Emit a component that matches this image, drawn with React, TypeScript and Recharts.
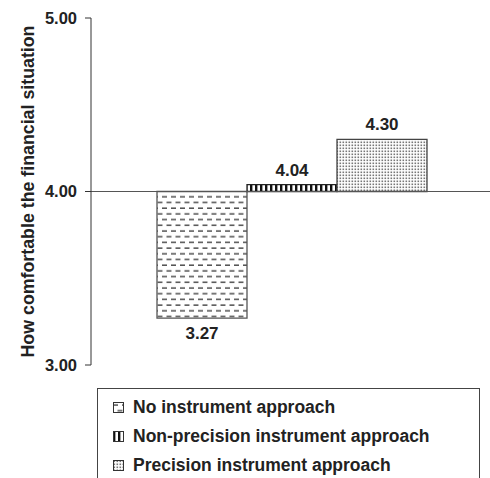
import React from "react";
import { BarChart, Bar, XAxis, YAxis, ReferenceLine, LabelList, Legend } from "recharts";

const categories = [
  "No instrument approach",
  "Non-precision instrument approach",
  "Precision instrument approach",
];
const seriesKeys = ["none", "nonPrecision", "precision"];
const values = [3.27, 4.04, 4.3];
const midpoint = 4;
const yTicks = [3, 4, 5];
const patternIds = ["pat-dash", "pat-stripe", "pat-dot"];
const strokes = ["#555", "#222", "#444"];

const FONT = "'Liberation Sans', Arial, sans-serif";

// one category, three bars running from the midpoint (4.00) to each value
const row: Record<string, any> = { name: "approach" };
seriesKeys.forEach((k, i) => {
  row[k] = [Math.min(midpoint, values[i]), Math.max(midpoint, values[i])];
  row[k + "Label"] = values[i].toFixed(2);
});
const data = [row];

const Patterns = () => (
  <defs>
    <pattern id="pat-dash" width="9" height="11.4" patternUnits="userSpaceOnUse">
      <rect width="9" height="11.4" fill="#fff" />
      <line x1="0" y1="3" x2="5" y2="3" stroke="#333" strokeWidth="1.3" />
      <line x1="4.5" y1="8.7" x2="9" y2="8.7" stroke="#333" strokeWidth="1.3" />
      <line x1="0" y1="8.7" x2="0.5" y2="8.7" stroke="#333" strokeWidth="1.3" />
    </pattern>
    <pattern id="pat-stripe" width="5" height="5" patternUnits="userSpaceOnUse">
      <rect width="5" height="5" fill="#fff" />
      <rect x="0" y="0" width="2.4" height="5" fill="#111" />
    </pattern>
    <pattern id="pat-dot" width="3" height="3" patternUnits="userSpaceOnUse">
      <rect width="3" height="3" fill="#fff" />
      <rect x="0.5" y="0.5" width="1.6" height="1.6" fill="#777" />
    </pattern>
  </defs>
);

const LegendBox = () => (
  <div
    style={{
      border: "1px solid #444",
      width: 383,
      height: 110,
      boxSizing: "border-box",
      paddingTop: 4,
      fontFamily: FONT,
      fontWeight: "bold",
      fontSize: 17.5,
      color: "#222",
    }}
  >
    {categories.map((c, i) => (
      <div key={c} style={{ display: "flex", alignItems: "center", height: 29, paddingLeft: 15 }}>
        <svg width={11} height={11} style={{ marginRight: 9 }}>
          <rect x={0.5} y={0.5} width={10} height={10} fill={`url(#${patternIds[i]})`} stroke="#333" strokeWidth={1} />
        </svg>
        <span>{c}</span>
      </div>
    ))}
  </div>
);

const YTitle = ({ viewBox }: any) => {
  const cy = viewBox.y + viewBox.height / 2;
  const cx = 28;
  return (
    <text
      x={cx}
      y={cy}
      transform={`rotate(-90, ${cx}, ${cy})`}
      textAnchor="middle"
      dominantBaseline="central"
      fontFamily={FONT}
      fontWeight="bold"
      fontSize={17.8}
      fill="#222"
    >
      How comfortable the financial situation
    </text>
  );
};

export default function App() {
  return (
    <div style={{ position: "absolute", left: 0, top: 0, background: "#fff" }}>
      <BarChart
        width={490}
        height={478}
        data={data}
        margin={{ top: 18, right: 0, bottom: 113, left: 0 }}
        barGap={0}
        barSize={90}
      >
        <Patterns />
        <XAxis dataKey="name" hide padding={{ left: 3, right: 0 }} />
        <YAxis
          domain={[3, 5]}
          ticks={yTicks}
          width={91}
          tickFormatter={(v: number) => v.toFixed(2)}
          tick={{ fill: "#222", fontSize: 16.5, fontWeight: "bold", fontFamily: FONT }}
          tickSize={6}
          tickMargin={8}
          axisLine={{ stroke: "#333" }}
          tickLine={{ stroke: "#333" }}
          label={<YTitle />}
        />
        <ReferenceLine y={midpoint} stroke="#555" strokeWidth={1} />
        {seriesKeys.map((k, i) => (
          <Bar
            key={k}
            dataKey={k}
            name={categories[i]}
            fill={`url(#${patternIds[i]})`}
            stroke={strokes[i]}
            strokeWidth={1.3}
            isAnimationActive={false}
          >
            <LabelList
              dataKey={k + "Label"}
              position={values[i] < midpoint ? "bottom" : "top"}
              offset={9}
              fill="#222"
              fontSize={17}
              fontWeight="bold"
              fontFamily={FONT}
            />
          </Bar>
        ))}
        <Legend
          layout="vertical"
          align="center"
          verticalAlign="middle"
          content={<LegendBox />}
          wrapperStyle={{ left: 97, top: 388, width: 383 }}
        />
      </BarChart>
    </div>
  );
}
